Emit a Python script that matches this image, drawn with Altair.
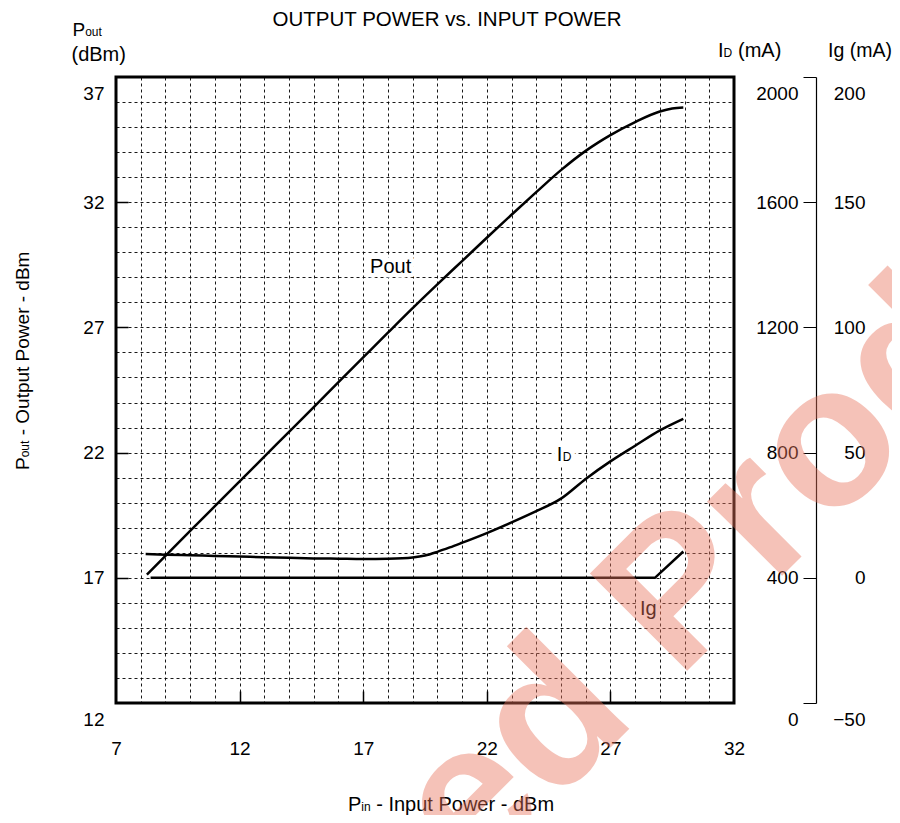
import altair as alt
import pandas as pd

# ---------------- data ----------------
pin_pout = [8.25, 9.0, 10.0, 11.0, 12.0, 13.0, 14.0, 15.0, 16.0, 17.0, 18.0, 19.0,
            20.0, 21.0, 22.0, 23.0, 24.0, 25.0, 26.0, 26.5, 27.0, 28.0, 29.0, 29.5, 29.95]
pout_dbm = [17.13, 17.88, 18.87, 19.86, 20.85, 21.84, 22.83, 23.82, 24.81, 25.8, 26.79, 27.77,
            28.72, 29.65, 30.58, 31.5, 32.4, 33.28, 34.05, 34.38, 34.68, 35.2, 35.62, 35.74, 35.78]

pin_id = [8.2, 9.0, 10.0, 11.0, 12.0, 13.0, 14.0, 15.0, 16.0, 17.0, 18.0, 19.0, 19.5,
          20.0, 20.5, 21.0, 22.0, 23.0, 24.0, 25.0, 26.0, 27.0, 28.0, 29.0, 29.95]
id_ma = [476, 474, 472, 470, 468, 466, 464, 462, 461, 460, 461, 465, 471,
         483, 497, 512, 543, 577, 613, 653, 716, 772, 822, 871, 908]

pin_ig = [8.4, 28.8, 29.95]
ig_ma = [0.0, 0.0, 10.5]

x_ticks = [7, 12, 17, 22, 27, 32]
pout_ticks = [12, 17, 22, 27, 32, 37]
id_ticks = [0, 400, 800, 1200, 1600, 2000]
ig_ticks = [-50, 0, 50, 100, 150, 200]
x_grid = list(range(7, 33))
y_grid = list(range(12, 38))
x_inner_ticks = [12, 17, 22, 27]
y_inner_ticks = [17, 22, 27, 32]

W, H = 618, 626
FONT = "Liberation Sans"

pout_df = pd.DataFrame({"pin": pin_pout, "val": pout_dbm})
id_df = pd.DataFrame({"pin": pin_id, "val": id_ma})
ig_df = pd.DataFrame({"pin": pin_ig, "val": ig_ma})

xs = alt.Scale(domain=[7, 32], nice=False, zero=False)
ys_pout = alt.Scale(domain=[12, 37], nice=False, zero=False)
ys_id = alt.Scale(domain=[0, 2000], nice=False, zero=False)
ys_ig = alt.Scale(domain=[-50, 200], nice=False, zero=False)


def edge_cond(lo, hi, v_edge, v_else):
    return {"condition": {"test": f"datum.value == {lo} || datum.value == {hi}", "value": v_edge},
            "value": v_else}


no_axis_common = dict(title=None, labelFont=FONT, labelColor="black")

# ---- grid layer ----
grid_layer = alt.Chart(pout_df).mark_line(opacity=0).encode(
    x=alt.X("pin:Q", scale=xs, axis=alt.Axis(values=x_grid, grid=True, gridDash=[3, 3],
                                               gridColor="black", gridWidth=1, gridOpacity=0.9,
                                               labels=False, ticks=False, tickSize=0, domain=False,
                                               title=None)),
    y=alt.Y("val:Q", scale=ys_pout, axis=alt.Axis(values=y_grid, grid=True, gridDash=[3, 3],
                                                   gridColor="black", gridWidth=1, gridOpacity=0.9,
                                                   labels=False, ticks=False, tickSize=0, domain=False,
                                                   title=None)),
)

# ---- inner major ticks (left and bottom edges) ----
inner_ticks = alt.Chart(pout_df).mark_line(opacity=0).encode(
    x=alt.X("pin:Q", scale=xs, axis=alt.Axis(orient="top", offset=-H, values=x_inner_ticks,
                                               ticks=True, tickSize=12, tickWidth=1.5, tickColor="black",
                                               labels=False, domain=False, grid=False, title=None)),
    y=alt.Y("val:Q", scale=ys_pout, axis=alt.Axis(orient="right", offset=-W, values=y_inner_ticks,
                                                   ticks=True, tickSize=12, tickWidth=1.5, tickColor="black",
                                                   labels=False, domain=False, grid=False, title=None)),
)

# ---- Pout curve with the main left/bottom labels ----
pout_line = alt.Chart(pout_df).mark_line(color="black", strokeWidth=2.5, interpolate="monotone").encode(
    x=alt.X("pin:Q", scale=xs, axis=alt.Axis(orient="bottom", values=x_ticks, format="d",
                                               labelPadding=36, labelFontSize=19, labelFlush=False,
                                               labelOverlap=False, ticks=False, tickSize=0,
                                               domain=False, grid=False, **no_axis_common)),
    y=alt.Y("val:Q", scale=ys_pout, axis=alt.Axis(orient="left", values=pout_ticks, format="d",
                                                   labelPadding=12, labelFontSize=19, labelOverlap=False,
                                                   labelBaseline=edge_cond(12, 37, "top", "middle"),
                                                   labelOffset=edge_cond(12, 37, 7, 0),
                                                   ticks=False, tickSize=0, domain=False, grid=False,
                                                   **no_axis_common)),
)

# ---- ID curve with its axis (bracket at x=816) ----
id_line = alt.Chart(id_df).mark_line(color="black", strokeWidth=2.5, interpolate="monotone").encode(
    x=alt.X("pin:Q", scale=xs, axis=None),
    y=alt.Y("val:Q", scale=ys_id, axis=alt.Axis(orient="left", offset=-700, values=id_ticks, format="d",
                                                 labelPadding=5, labelFontSize=19, labelOverlap=False,
                                                 labelBaseline=edge_cond(0, 2000, "top", "middle"),
                                                 labelOffset=edge_cond(0, 2000, 7, 0),
                                                 ticks=True, tickSize=13, tickWidth=1, tickColor="black",
                                                 domain=True, domainColor="black", domainWidth=1.2,
                                                 grid=False, **no_axis_common)),
)

# ---- Ig curve with its axis ----
ig_line = alt.Chart(ig_df).mark_line(color="black", strokeWidth=2.5, interpolate="linear").encode(
    x=alt.X("pin:Q", scale=xs, axis=None),
    y=alt.Y("val:Q", scale=ys_ig, axis=alt.Axis(orient="right", offset=82, values=ig_ticks, format="d",
                                                 labelPadding=49, labelAlign="right", labelFontSize=19,
                                                 labelOverlap=False,
                                                 labelBaseline=edge_cond(-50, 200, "top", "middle"),
                                                 labelOffset=edge_cond(-50, 200, 7, 0),
                                                 ticks=False, tickSize=0, domain=False, grid=False,
                                                 **no_axis_common)),
)

# ---- in-plot curve labels (data coordinates, Pout units) ----
lab_names = ["Pout", "I", "D", "Ig"]
lab_pin = [17.28, 24.83, 24.83, 28.2]
lab_pos = [29.16, 21.66, 21.66, 15.51]
lab_size = [20, 20, 12, 20]
lab_dx = [0, 0, 6, 0]
lab_df = pd.DataFrame({"t": lab_names, "pin": lab_pin, "val": lab_pos, "size": lab_size, "dx": lab_dx})


def curve_label(i, halo):
    row = lab_df.iloc[[i]]
    kw = dict(font=FONT, fontSize=int(row["size"].iloc[0]), align="left", baseline="alphabetic",
              dx=int(row["dx"].iloc[0]))
    if halo:
        kw.update(stroke="white", strokeWidth=9, color="white", strokeJoin="round")
    else:
        kw.update(color="black")
    return alt.Chart(row).mark_text(**kw).encode(
        x=alt.X("pin:Q", scale=xs, axis=None),
        y=alt.Y("val:Q", scale=ys_pout, axis=None),
        text="t:N",
    )


halos = [curve_label(i, True) for i in range(len(lab_names))]
labels = [curve_label(i, False) for i in range(len(lab_names))]


# ---- titles and unit labels (pixel positions relative to plot area) ----
def txt(s, x, y, size=20, angle=0, align="left", weight="normal", color="black", opacity=1.0):
    return alt.Chart(pd.DataFrame({"t": [s]})).mark_text(
        font=FONT, fontSize=size, angle=angle, align=align, baseline="alphabetic",
        fontWeight=weight, color=color, opacity=opacity,
    ).encode(x=alt.value(x), y=alt.value(y), text="t:N")


texts = [
    txt("OUTPUT POWER vs. INPUT POWER", 331, -51.5, size=20.5, align="center"),
    # Pout (dBm) over left axis
    txt("P", -43.5, -41.3, size=19),
    txt("out", -30.8, -41.3, size=12),
    txt("(dBm)", -44.5, -16, size=20),
    # ID (mA)
    txt("I", 602, -19.7, size=20),
    txt("D", 607.5, -19.7, size=12),
    txt("(mA)", 622, -19.7, size=20),
    # Ig (mA)
    txt("Ig (mA)", 712, -19.7, size=19.5),
    # rotated y title
    txt("P", -87, 393, size=19, angle=270),
    txt("out", -87, 380.3, size=12, angle=270),
    txt("- Output Power - dBm", -87, 358.3, size=19, angle=270),
    # x title
    txt("P", 232, 733.5, size=20),
    txt("in", 245.3, 733.5, size=12),
    txt("- Input Power - dBm", 260.2, 733.5, size=20),
]

watermark = txt("Discontinued Product", 361.5, 803.5, size=200, angle=315, align="center",
                weight="bold", color="#e8735c", opacity=0.43)

chart = alt.layer(
    grid_layer, inner_ticks, pout_line, id_line, ig_line, *halos, *labels, *texts, watermark
).resolve_scale(
    x="independent", y="independent"
).resolve_axis(
    x="independent", y="independent"
).properties(
    width=W, height=H,
    autosize=alt.AutoSizeParams(type="none"),
    padding={"left": 108, "top": 69, "right": 158, "bottom": 112},
    background="white",
).configure_view(
    stroke="black", strokeWidth=3
)

chart.save("out.html", embed_options={"renderer": "svg", "actions": False})
